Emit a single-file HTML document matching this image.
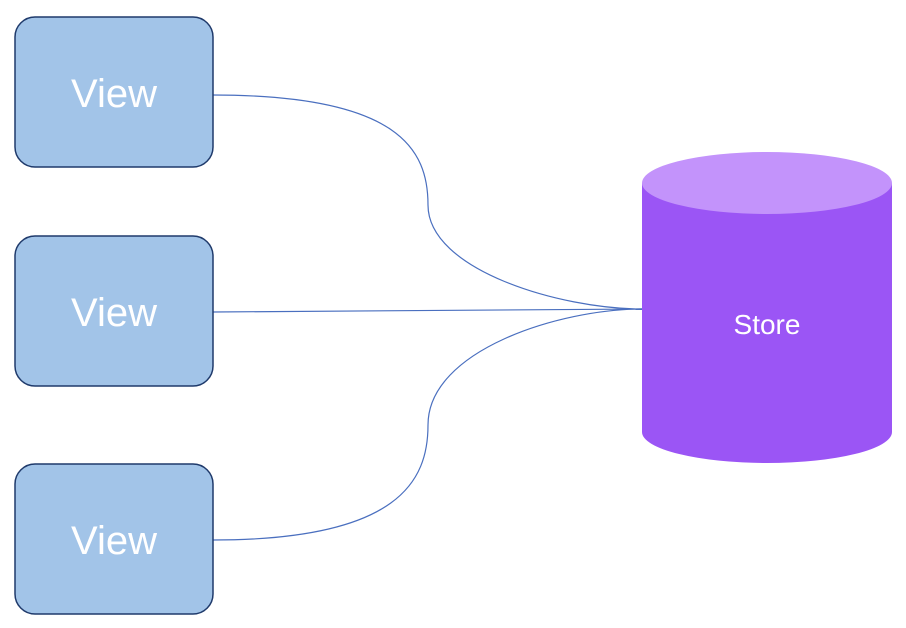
<!DOCTYPE html>
<html><head><style>body{margin:0;background:#fff}svg{display:block}</style></head><body>
<svg width="906" height="628" viewBox="0 0 906 628" xmlns="http://www.w3.org/2000/svg">
<g fill="none" stroke="#4a6fbf" stroke-width="1.2">
<path d="M213,95 C400,95 428,150 428,205 C428,270 560,309 642,309"/>
<path d="M213,312 L642,309"/>
<path d="M213,540 C400,540 428,480 428,425 C428,350 560,309 642,309"/>
</g>
<g fill="#a2c4e8" stroke="#1f3a6b" stroke-width="1.5">
<rect x="15" y="17" width="198" height="150" rx="20"/>
<rect x="15" y="236" width="198" height="150" rx="20"/>
<rect x="15" y="464" width="198" height="150" rx="20"/>
</g>
<g fill="#fff" font-family="Liberation Sans, sans-serif" font-size="40" text-anchor="middle">
<text x="114" y="107">View</text>
<text x="114" y="326">View</text>
<text x="114" y="554">View</text>
</g>
<path d="M642,183 L642,432 A125,31 0 0 0 892,432 L892,183 Z" fill="#9b55f5"/>
<ellipse cx="767" cy="183" rx="125" ry="31" fill="#c393fb"/>
<text x="767" y="334" fill="#fff" font-family="Liberation Sans, sans-serif" font-size="28" text-anchor="middle">Store</text>
</svg>
</body></html>
